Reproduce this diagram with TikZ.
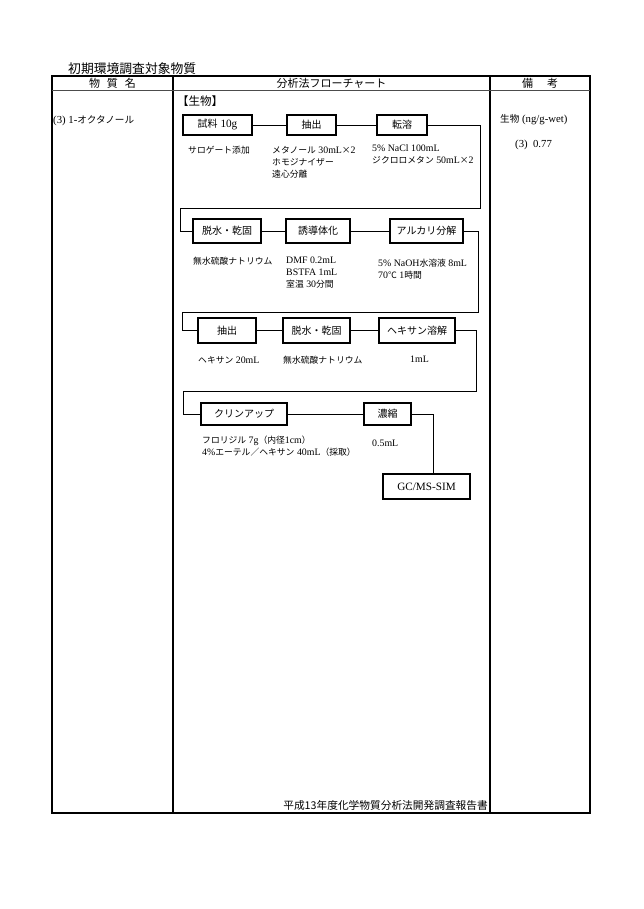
\documentclass[tikz,border=0pt]{standalone}
\usepackage{fontspec}
\setmainfont{Liberation Serif}[Scale=1.12]
\newfontfamily\jpfont{Noto Sans CJK JP}
\newcommand{\jp}[1]{{\jpfont #1}}
\usetikzlibrary{positioning}

\begin{document}
\begin{tikzpicture}[
    x=1pt, y=-1pt,
    stepbox/.style={rectangle, draw=black, line width=1.1pt, fill=white,
                align=center, font=\fontsize{10}{12}\selectfont,
                inner sep=1pt},
    note/.style={anchor=north west, inner sep=0pt, align=left,
                font=\fontsize{8.8}{12}\selectfont},
    link/.style={draw=black, line width=0.9pt},
    frame/.style={draw=black, line width=1.6pt},
    head/.style={font=\fontsize{11}{12}\selectfont, inner sep=0pt}
]
\useasboundingbox (0,0) rectangle (643,909);

% table frame
\node[anchor=base west, inner sep=0pt, font=\fontsize{12.8}{14}\selectfont] (title) at (68,74) {\jp{初期環境調査対象物質}};
\draw[frame] (52,76) rectangle (590,813);
\draw[frame] (173,76) -- (173,813);
\draw[frame] (490,76) -- (490,813);
\draw[draw=black!70, line width=0.7pt] (52,90) -- (590,90);
\node[head] (h_name) at (112.5,83) {\jp{物\hspace{7pt}質\hspace{7pt}名}};
\node[head] (h_flow) at (331.5,83) {\jp{分析法フローチャート}};
\node[head] (h_note) at (540,83) {\jp{備\hspace{14pt}考}};

% left and right columns
\node[anchor=west, inner sep=0pt, font=\fontsize{9.6}{12}\selectfont] (compound) at (53,121) {(3) 1-\jp{オクタノール}};
\node[anchor=west, inner sep=0pt, font=\fontsize{9.6}{12}\selectfont] (unit) at (500,120) {\jp{生物} (ng/g-wet)};
\node[anchor=west, inner sep=0pt, font=\fontsize{9.6}{12}\selectfont] (value) at (515,145) {(3)\enspace 0.77};

\node[anchor=west, inner sep=0pt, font=\fontsize{11.5}{13}\selectfont] (sample) at (177,101) {\jp{【生物】}};

% row 1
\node[stepbox, minimum width=69pt, minimum height=20pt] (s1) at (217.5,125) {\jp{試料} 10g};
\node[stepbox, minimum width=49pt, minimum height=20pt] (s2) at (311.5,125) {\jp{抽出}};
\node[stepbox, minimum width=50pt, minimum height=20pt] (s3) at (402,125) {\jp{転溶}};
\node[note] (n1) at (188,146) {\jp{サロゲート添加}};
\node[note] (n2) at (272,146) {\jp{メタノール} 30mL\jp{×}2\\\jp{ホモジナイザー}\\\jp{遠心分離}};
\node[note] (n3) at (372,144) {5\% NaCl 100mL\\\jp{ジクロロメタン} 50mL\jp{×}2};
\draw[link] (s1) -- (s2);
\draw[link] (s2) -- (s3);

% row 2
\node[stepbox, minimum width=68pt, minimum height=24pt] (b1) at (227,231) {\jp{脱水・乾固}};
\node[stepbox, minimum width=64pt, minimum height=24pt] (b2) at (318,231) {\jp{誘導体化}};
\node[stepbox, minimum width=73pt, minimum height=24pt] (b3) at (426.5,231) {\jp{アルカリ分解}};
\node[note] (n4) at (193,257) {\jp{無水硫酸ナトリウム}};
\node[note] (n5) at (286,257) {DMF 0.2mL\\BSTFA 1mL\\\jp{室温} 30\jp{分間}};
\node[note] (n6) at (378,259) {5\% NaOH\jp{水溶液} 8mL\\70\jp{℃} 1\jp{時間}};
\coordinate (t1) at (480,208);
\coordinate (t1l) at (180,208);
\draw[link] (s3.east) -| (t1) -- (t1l) |- (b1.west);
\draw[link] (b1) -- (b2);
\draw[link] (b2) -- (b3);

% row 3
\node[stepbox, minimum width=58pt, minimum height=25pt] (c1) at (227,330.5) {\jp{抽出}};
\node[stepbox, minimum width=67pt, minimum height=25pt] (c2) at (316.5,330.5) {\jp{脱水・乾固}};
\node[stepbox, minimum width=76pt, minimum height=25pt] (c3) at (417,330.5) {\jp{ヘキサン溶解}};
\node[note] (n7) at (198,356) {\jp{ヘキサン} 20mL};
\node[note] (n8) at (283,356) {\jp{無水硫酸ナトリウム}};
\node[note] (n9) at (410,356) {1mL};
\coordinate (t2) at (478,312);
\coordinate (t2l) at (182,312);
\draw[link] (b3.east) -| (t2) -- (t2l) |- (c1.west);
\draw[link] (c1) -- (c2);
\draw[link] (c2) -- (c3);

% row 4
\node[stepbox, minimum width=86pt, minimum height=22pt] (d1) at (244,414) {\jp{クリンアップ}};
\node[stepbox, minimum width=47pt, minimum height=22pt] (d2) at (387.5,414) {\jp{濃縮}};
\node[stepbox, minimum width=87pt, minimum height=25pt] (gc) at (426.5,486.5) {GC/MS-SIM};
\node[note] (n10) at (202,436) {\jp{フロリジル} 7g\jp{（内径}1cm\jp{）}\\4\%\jp{エーテル／ヘキサン} 40mL\jp{（採取）}};
\node[note] (n11) at (372,440) {0.5mL};
\coordinate (t3) at (476,391);
\coordinate (t3l) at (183,391);
\coordinate (t4) at (433,414);
\draw[link] (c3.east) -| (t3) -- (t3l) |- (d1.west);
\draw[link] (d1) -- (d2);
\draw[link] (d2.east) -- (t4) -- (t4 |- gc.north);

% footer
\node[anchor=base east, inner sep=0pt, font=\fontsize{10.7}{12}\selectfont] (report) at (488,809) {\jp{平成13年度化学物質分析法開発調査報告書}};

\end{tikzpicture}
\end{document}
